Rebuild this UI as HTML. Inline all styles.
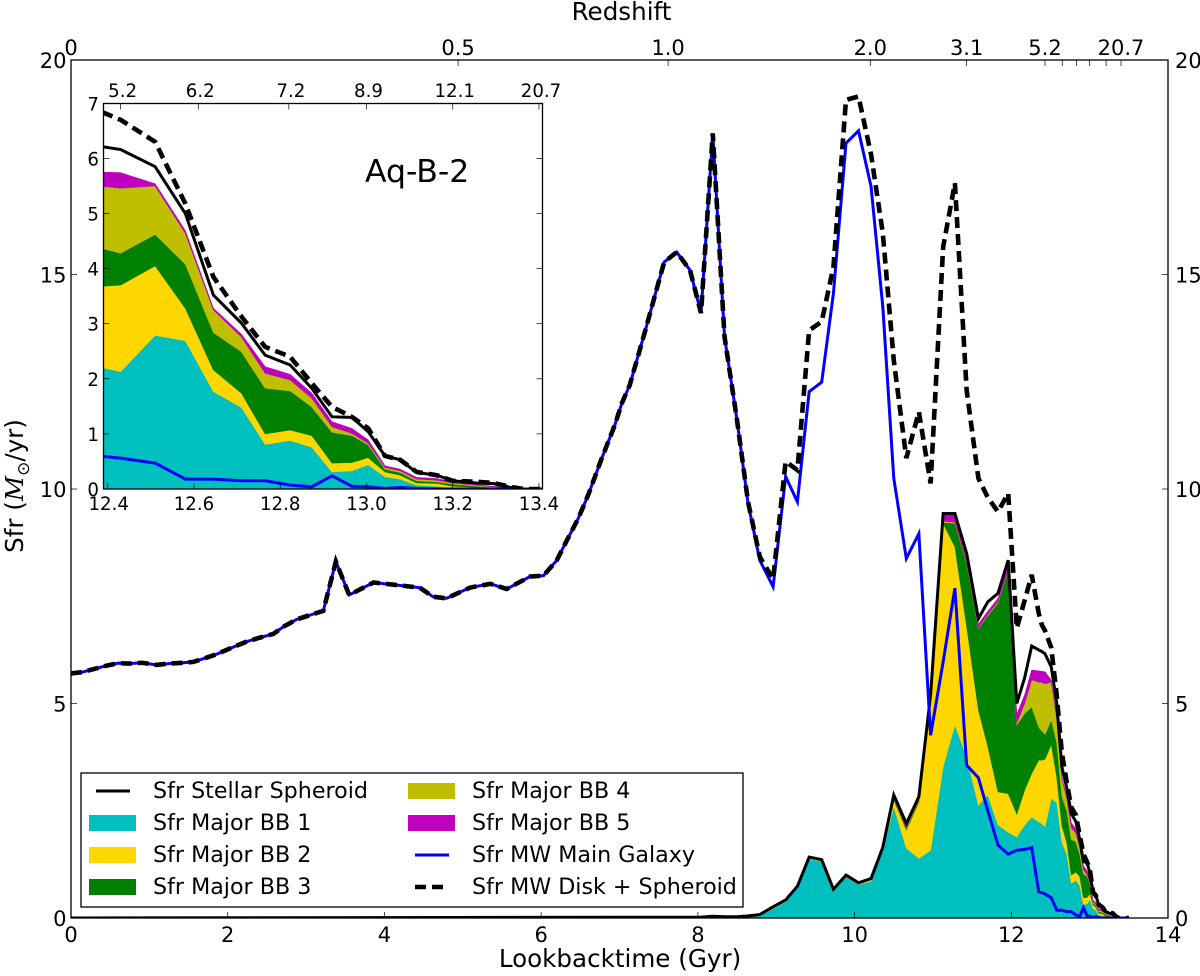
<!DOCTYPE html>
<html lang="en">
<head>
<meta charset="utf-8">
<title>Sfr vs Lookbacktime</title>
<style>
html,body{margin:0;padding:0;background:#fff;}
svg{display:block;font-family:"DejaVu Sans","Liberation Sans",sans-serif;fill:#000;}
</style>
</head>
<body>
<svg id="chart" xmlns="http://www.w3.org/2000/svg" width="1200" height="976" viewBox="0 0 1200 976">
  <defs>
    <clipPath id="main-clip"><rect x="71" y="60" width="1097" height="858"/></clipPath>
    <clipPath id="inset-clip"><rect x="103.5" y="103.5" width="439" height="385.5"/></clipPath>
  </defs>
  <rect x="0" y="0" width="1200" height="976" fill="#fff"/>
  <g id="main-plot"></g>
  <g id="inset-plot"></g>

  <text x="620" y="967" font-size="24.6" text-anchor="middle">Lookbacktime (Gyr)</text>
  <text x="621.5" y="20" font-size="24.6" text-anchor="middle">Redshift</text>
  <text transform="translate(23,486) rotate(-90)" font-size="24.6" text-anchor="middle">Sfr (<tspan font-style="italic" font-family="'DejaVu Serif','Liberation Serif',serif">M</tspan><tspan font-size="17" dy="6">⊙</tspan><tspan dy="-6">/yr)</tspan></text>
  <text x="365" y="182" font-size="31.5">Aq-B-2</text>

  <g>
    <rect x="81" y="773" width="662" height="134" fill="#fff" stroke="#000" stroke-width="1.3"/>
    <g>
      <line x1="96" x2="130" y1="791" y2="791" stroke="#000" stroke-width="3"/>
      <text x="153" y="798" font-size="22.2">Sfr Stellar Spheroid</text>
    </g>
    <g>
      <rect x="89" y="815" width="47" height="16" fill="#00bfbf"/>
      <text x="153" y="830" font-size="22.2">Sfr Major BB 1</text>
    </g>
    <g>
      <rect x="89" y="847" width="47" height="16" fill="#ffd700"/>
      <text x="153" y="862" font-size="22.2">Sfr Major BB 2</text>
    </g>
    <g>
      <rect x="89" y="879" width="47" height="16" fill="#008000"/>
      <text x="153" y="894" font-size="22.2">Sfr Major BB 3</text>
    </g>
    <g>
      <rect x="408" y="783" width="47" height="16" fill="#bfbf00"/>
      <text x="472" y="798" font-size="22.2">Sfr Major BB 4</text>
    </g>
    <g>
      <rect x="408" y="815" width="47" height="16" fill="#bf00bf"/>
      <text x="472" y="830" font-size="22.2">Sfr Major BB 5</text>
    </g>
    <g>
      <line x1="415" x2="449" y1="855" y2="855" stroke="#0000ff" stroke-width="3"/>
      <text x="472" y="862" font-size="22.2">Sfr MW Main Galaxy</text>
    </g>
    <g>
      <line x1="415" x2="446" y1="887" y2="887" stroke="#000" stroke-width="4.6" stroke-dasharray="11 6"/>
      <text x="472" y="894" font-size="22.2">Sfr MW Disk + Spheroid</text>
    </g>
  </g>
</svg>
<script>
const times = [0,.14,.285,.45,.604,.75,.9,1.09,1.25,1.43,1.56,1.7,1.86,2.05,2.24,2.4,2.58,2.72,2.88,3.05,3.22,3.38,3.55,3.7,3.86,4.16,4.45,4.62,4.79,5.09,5.35,5.56,5.86,6.03,6.2,6.33,6.47,6.6,6.77,6.94,7.03,7.13,7.33,7.45,7.57,7.73,7.9,8.04,
8.19,8.34,8.5,8.64,8.79,8.96,9.12,9.27,9.42,9.58,9.73,9.89,10.05,10.21,10.36,10.5,10.66,10.82,10.97,11.13,11.28,11.43,11.58,11.7,11.83,11.96,12.07,12.17,12.26,12.35,
12.39,12.43,12.51,12.58,12.645,12.71,12.765,12.823,12.873,12.92,12.966,13.004,13.043,13.078,13.116,13.163,13.2,13.255,13.294,13.333,13.364,13.4,13.5];
const mainGalaxy = [5.70,5.73,5.80,5.88,5.94,5.93,5.95,5.90,5.93,5.95,5.97,6.05,6.15,6.30,6.44,6.53,6.62,6.80,6.96,7.06,7.16,8.31,7.53,7.67,7.82,7.76,7.70,7.49,7.45,7.70,7.79,7.67,7.96,7.98,8.34,8.81,9.30,9.86,10.70,11.49,12.00,12.42,13.70,14.50,15.29,15.52,15.10,14.10,
18.29,13.55,11.60,9.67,8.34,7.72,10.29,9.70,12.27,12.49,14.56,18.06,18.35,17.05,14.25,10.25,8.38,8.96,4.26,5.97,7.69,3.56,3.27,2.50,1.70,1.49,1.58,1.60,1.64,.61,
.59,.56,.47,.18,.18,.15,.15,.07,.04,.24,.05,.04,.01,.03,.01,0,0,0,0,0,0,0,0];
const diskSpheroid = [5.70,5.73,5.80,5.88,5.94,5.93,5.95,5.90,5.93,5.95,5.97,6.05,6.15,6.30,6.44,6.53,6.62,6.80,6.96,7.06,7.16,8.31,7.53,7.67,7.82,7.76,7.70,7.49,7.45,7.70,7.79,7.67,7.96,7.98,8.34,8.81,9.30,9.86,10.70,11.49,12.00,12.42,13.70,14.50,15.29,15.52,15.10,14.10,
18.29,13.55,11.60,9.70,8.42,7.90,10.64,10.44,13.70,13.90,15.18,19.07,19.15,17.80,15.96,13.00,10.72,11.80,10.13,15.64,17.13,12.30,10.25,9.80,9.47,9.90,6.76,7.40,8.00,7.10,
6.83,6.70,6.30,5.18,3.85,3.13,2.58,2.40,1.92,1.49,1.31,1.10,.60,.53,.31,.25,.15,.13,.11,.04,0,0,0];
const burstTimes = [0,8.04,
8.19,8.34,8.5,8.64,8.79,8.96,9.12,9.27,9.42,9.58,9.73,9.89,10.05,10.21,10.36,10.5,10.66,10.82,10.97,11.13,11.28,11.43,11.58,11.7,11.83,11.96,12.07,12.17,12.26,12.35,
12.39,12.43,12.51,12.58,12.645,12.71,12.765,12.823,12.873,12.92,12.966,13.004,13.043,13.078,13.116,13.163,13.2,13.255,13.294,13.333,13.364,13.4,13.5];
const stellarSpheroid = [0,.02,
.04,.03,.03,.05,.08,.26,.42,.74,1.42,1.36,.67,1.0,.82,.92,1.65,2.87,2.2,2.83,5.2,9.43,9.43,8.5,6.98,7.37,7.57,8.34,5.0,5.6,6.34,6.25,
6.21,6.16,5.85,5.0,3.52,3.01,2.43,2.25,1.83,1.31,1.30,1.04,.60,.53,.30,.25,.15,.11,.10,.03,0,0,0];
const bb5Top = [0,.01,
.03,.02,.02,.04,.06,.24,.40,.72,1.40,1.34,.65,.98,.80,.90,1.62,2.85,2.12,2.80,5.15,9.43,9.43,8.4,6.85,7.15,7.45,8.2,4.75,5.2,5.78,5.76,
5.75,5.74,5.54,4.69,3.28,2.81,2.22,2.08,1.74,1.22,1.10,.89,.42,.36,.21,.19,.13,.08,.05,.02,0,0,0];
const bb4Top = [0,.01,
.03,.02,.02,.04,.06,.24,.40,.72,1.40,1.34,.65,.98,.80,.90,1.62,2.80,2.10,2.76,5.08,9.25,9.23,8.3,6.77,7.08,7.38,8.12,4.55,5.0,5.55,5.50,
5.49,5.46,5.50,4.64,3.25,2.76,2.10,1.98,1.65,1.13,1.01,.83,.39,.33,.18,.16,.11,.07,.04,.01,0,0,0];
const bb3Top = [0,.01,
.03,.02,.02,.04,.06,.24,.40,.72,1.40,1.34,.65,.98,.80,.90,1.62,2.78,2.08,2.74,5.05,9.22,9.20,8.27,6.75,7.05,7.35,8.10,4.50,4.77,4.92,4.45,
4.36,4.28,4.62,4.08,2.84,2.49,1.83,1.78,1.49,1.03,.97,.80,.36,.30,.15,.13,.09,.05,.03,.01,0,0,0];
const bb2Top = [0,.01,
.03,.02,.02,.04,.06,.24,.40,.72,1.40,1.34,.65,.98,.80,.90,1.62,2.75,2.05,2.70,5.00,9.20,8.65,6.80,4.85,4.00,2.94,2.90,2.42,2.98,3.37,3.68,
3.68,3.70,4.05,3.28,2.16,1.74,1.00,1.07,.97,.47,.48,.57,.31,.25,.11,.10,.05,.03,.02,0,0,0,0];
const bb1Top = [0,.01,
.02,.02,.02,.03,.05,.22,.38,.70,1.38,1.32,.63,.96,.78,.86,1.58,2.60,1.63,1.39,1.58,3.53,4.50,3.76,2.63,2.87,2.17,2.00,1.89,2.17,2.35,2.24,
2.20,2.13,2.79,2.69,1.77,1.48,.81,.88,.76,.31,.33,.44,.22,.18,.07,.05,.02,.01,0,0,0,0,0];

const mainXTicks = [0,2,4,6,8,10,12,14];
const mainYTicks = [0,5,10,15,20];
const redshiftTickTimes = [0,4.94,7.62,10.2,11.43,12.43,12.65,12.83,13.0,13.21,13.4];
const redshiftTickLabels = ["0","0.5","1.0","2.0","3.1","5.2","","","","","20.7"];
const insetXTicks = [12.4,12.6,12.8,13.0,13.2,13.4];
const insetXLabels = ["12.4","12.6","12.8","13.0","13.2","13.4"];
const insetYTicks = [0,1,2,3,4,5,6,7];
const insetRedshiftTimes = [12.43,12.61,12.82,13.0,13.2,13.4];
const insetRedshiftLabels = ["5.2","6.2","7.2","8.9","12.1","20.7"];

const NS = 'http://www.w3.org/2000/svg';
const mainX = t => 71 + t * 78.36;
const mainY = v => 918 - v * 42.9;
const insetX = t => 107.7 + (t - 12.4) * 431.3;
const insetY = v => 489 - v * 55.1;

function make(parent, tag, attrs, name) {
  const el = document.createElementNS(NS, tag);
  for (const k in attrs) el.setAttribute(k, attrs[k]);
  
  
  parent.appendChild(el);
  return el;
}
function linePath(ts, vs, sx, sy) {
  return ts.map((t, i) => (i ? 'L' : 'M') + sx(t).toFixed(2) + ' ' + sy(vs[i]).toFixed(2)).join('');
}
function bandPath(ts, lo, hi, sx, sy) {
  const up = ts.map((t, i) => sx(t).toFixed(2) + ' ' + sy(hi[i]).toFixed(2));
  const down = ts.map((t, i) => sx(t).toFixed(2) + ' ' + sy(lo ? lo[i] : 0).toFixed(2)).reverse();
  return 'M' + up.join('L') + 'L' + down.join('L') + 'Z';
}
function drawSeries(g, sx, sy, lw, dashLw, prefix) {
  const bands = [
    ['bb1', null, bb1Top, '#00bfbf'],
    ['bb2', bb1Top, bb2Top, '#ffd700'],
    ['bb3', bb2Top, bb3Top, '#008000'],
    ['bb4', bb3Top, bb4Top, '#bfbf00'],
    ['bb5', bb4Top, bb5Top, '#bf00bf']
  ];
  bands.forEach(b => {
    make(g, 'path', {d: bandPath(burstTimes, b[1], b[2], sx, sy), fill: b[3], stroke: b[3], 'stroke-width': 0.6}, prefix + 'area-' + b[0]);
  });
  make(g, 'path', {d: linePath(burstTimes, stellarSpheroid, sx, sy), fill: 'none', stroke: '#000', 'stroke-width': lw, 'stroke-linejoin': 'miter'}, prefix + 'line-stellar-spheroid');
  make(g, 'path', {d: linePath(times, mainGalaxy, sx, sy), fill: 'none', stroke: '#0000ff', 'stroke-width': lw}, prefix + 'line-main-galaxy');
  make(g, 'path', {d: linePath(times, diskSpheroid, sx, sy), fill: 'none', stroke: '#000', 'stroke-width': dashLw, 'stroke-dasharray': '11 6'}, prefix + 'line-disk-spheroid');
}
function label(parent, x, y, txt, size, anchor, name) {
  const el = make(parent, 'text', {x: x, y: y, 'font-size': size, 'text-anchor': anchor}, name);
  el.textContent = txt;
  return el;
}

/* main axes */
const mg = document.getElementById('main-plot');
const mainSeries = make(mg, 'g', {'clip-path': 'url(#main-clip)'}, 'main-series');
drawSeries(mainSeries, mainX, mainY, 3, 4.6, 'main-');
make(mg, 'rect', {x: 71, y: 60, width: 1097, height: 858, fill: 'none', stroke: '#000', 'stroke-width': 1.3}, 'main-frame');
mainXTicks.forEach(t => {
  make(mg, 'line', {x1: mainX(t), x2: mainX(t), y1: 918, y2: 912, stroke: '#000', 'stroke-width': 0.7}, 'x-tick');
  label(mg, mainX(t), 942, String(t), 21, 'middle', 'x-tick-label');
});
mainYTicks.forEach(v => {
  make(mg, 'line', {x1: 71, x2: 77, y1: mainY(v), y2: mainY(v), stroke: '#000', 'stroke-width': 0.7}, 'y-tick-left');
  make(mg, 'line', {x1: 1162, x2: 1168, y1: mainY(v), y2: mainY(v), stroke: '#000', 'stroke-width': 0.7}, 'y-tick-right');
  label(mg, 66.5, mainY(v) + 8, String(v), 21, 'end', 'y-tick-label-left');
  label(mg, 1175, mainY(v) + 8, String(v), 21, 'start', 'y-tick-label-right');
});
redshiftTickTimes.forEach((t, i) => {
  make(mg, 'line', {x1: mainX(t), x2: mainX(t), y1: 60, y2: 66, stroke: '#000', 'stroke-width': 0.7}, 'redshift-tick');
  if (redshiftTickLabels[i]) label(mg, mainX(t), 55, redshiftTickLabels[i], 21, 'middle', 'redshift-tick-label');
});

/* inset axes */
const ig = document.getElementById('inset-plot');
make(ig, 'rect', {x: 103.5, y: 103.5, width: 439, height: 385.5, fill: '#fff'}, 'inset-background');
const insetSeries = make(ig, 'g', {'clip-path': 'url(#inset-clip)'}, 'inset-series');
drawSeries(insetSeries, insetX, insetY, 3, 4.6, 'inset-');
make(ig, 'rect', {x: 103.5, y: 103.5, width: 439, height: 385.5, fill: 'none', stroke: '#000', 'stroke-width': 1.3}, 'inset-frame');
insetXTicks.forEach((t, i) => {
  make(ig, 'line', {x1: insetX(t), x2: insetX(t), y1: 489, y2: 483, stroke: '#000', 'stroke-width': 0.7}, 'inset-x-tick');
  label(ig, insetX(t) + (i === 0 ? 1 : 0), 510, insetXLabels[i], 18.2, 'middle', 'inset-x-tick-label');
});
insetYTicks.forEach(v => {
  make(ig, 'line', {x1: 103.5, x2: 109.5, y1: insetY(v), y2: insetY(v), stroke: '#000', 'stroke-width': 0.7}, 'inset-y-tick-left');
  make(ig, 'line', {x1: 536.5, x2: 542.5, y1: insetY(v), y2: insetY(v), stroke: '#000', 'stroke-width': 0.7}, 'inset-y-tick-right');
  label(ig, 99, insetY(v) + 7, String(v), 18.2, 'end', 'inset-y-tick-label');
});
insetRedshiftTimes.forEach((t, i) => {
  make(ig, 'line', {x1: insetX(t), x2: insetX(t), y1: 103.5, y2: 109.5, stroke: '#000', 'stroke-width': 0.7}, 'inset-redshift-tick');
  label(ig, insetX(t) + 2, 97, insetRedshiftLabels[i], 18.2, 'middle', 'inset-redshift-tick-label');
});
</script>
</body>
</html>
